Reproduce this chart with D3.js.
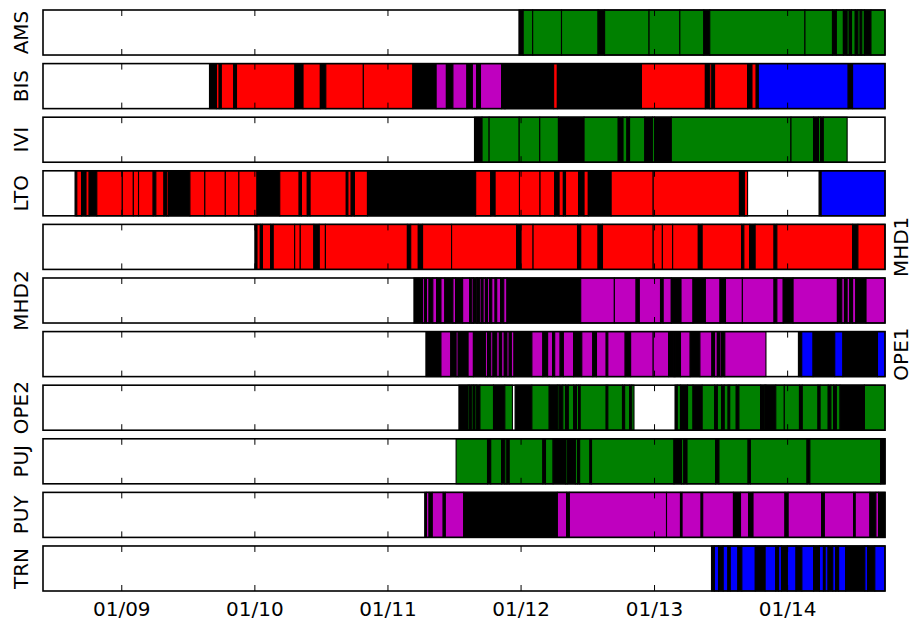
<!DOCTYPE html>
<html>
<head>
<meta charset="utf-8">
<script src="https://cdn.jsdelivr.net/npm/d3@7"></script>
<style>
  body { margin: 0; background: #fff; }
  svg text { font-family: "DejaVu Sans", sans-serif; }
</style>
</head>
<body>
<div id="chart"></div>
<script>
// Data: each station is a list of [start (decimal year), state]; a segment runs to the next start.
// States: g = green, r = red, m = magenta, b = blue, k = black, w = white (nothing)
const stations = ["AMS", "BIS", "IVI", "LTO", "MHD1", "MHD2", "OPE1", "OPE2", "PUJ", "PUY", "TRN"];
const rightLabels = ["MHD1", "OPE1"];
const tickYears = [2009, 2010, 2011, 2012, 2013, 2014];

const ams = [[2011.984,"k"],[2012.016,"g"],[2012.087,"g"],[2012.303,"g"],[2012.577,"k"],[2012.626,"g"],[2012.959,"g"],[2013.19,"g"],[2013.37,"k"],[2013.415,"g"],[2014.13,"g"],[2014.337,"k"],[2014.366,"g"],[2014.419,"k"],[2014.447,"g"],[2014.463,"k"],[2014.48,"g"],[2014.508,"k"],[2014.528,"g"],[2014.545,"k"],[2014.557,"g"],[2014.577,"k"],[2014.626,"g"],[2014.74,null]];

const bis = [[2009.659,"k"],[2009.711,"r"],[2009.732,"k"],[2009.748,"r"],[2009.841,"k"],[2009.862,"r"],[2010.301,"k"],[2010.362,"r"],[2010.492,"k"],[2010.533,"r"],[2010.815,"r"],[2011.187,"k"],[2011.362,"m"],[2011.439,"k"],[2011.488,"m"],[2011.593,"k"],[2011.634,"m"],[2011.667,"k"],[2011.695,"m"],[2011.854,"k"],[2011.874,"m"],[2011.882,"k"],[2012.244,"r"],[2012.272,"k"],[2012.902,"r"],[2013.382,"k"],[2013.415,"r"],[2013.431,"k"],[2013.451,"r"],[2013.699,"k"],[2013.732,"r"],[2013.764,"k"],[2013.78,"b"],[2014.455,"k"],[2014.488,"b"],[2014.74,null]];

const ivi = [[2011.65,"k"],[2011.707,"g"],[2011.76,"g"],[2011.986,"g"],[2012.14,"g"],[2012.28,"k"],[2012.472,"g"],[2012.728,"k"],[2012.764,"g"],[2012.793,"k"],[2012.813,"g"],[2012.927,"k"],[2012.984,"g"],[2013.0,"k"],[2013.126,"g"],[2014.025,"g"],[2014.195,"k"],[2014.232,"g"],[2014.248,"k"],[2014.268,"g"],[2014.447,"w"],[2014.74,null]];

const lto = [[2008.65,"k"],[2008.663,"r"],[2008.699,"k"],[2008.732,"r"],[2008.756,"k"],[2008.813,"r"],[2009.004,"r"],[2009.087,"r"],[2009.126,"r"],[2009.236,"k"],[2009.256,"r"],[2009.317,"k"],[2009.337,"r"],[2009.35,"k"],[2009.512,"r"],[2009.624,"r"],[2009.778,"r"],[2009.88,"r"],[2010.016,"k"],[2010.187,"r"],[2010.333,"k"],[2010.35,"r"],[2010.394,"k"],[2010.415,"r"],[2010.687,"k"],[2010.699,"r"],[2010.724,"k"],[2010.748,"r"],[2010.846,"k"],[2011.659,"r"],[2011.772,"k"],[2011.805,"r"],[2011.988,"r"],[2012.142,"r"],[2012.252,"k"],[2012.285,"r"],[2012.317,"k"],[2012.333,"r"],[2012.431,"k"],[2012.472,"r"],[2012.504,"k"],[2012.675,"r"],[2012.99,"r"],[2013.638,"k"],[2013.675,"r"],[2013.699,"w"],[2014.236,"k"],[2014.252,"b"],[2014.74,null]];

const mhd1 = [[2010.0,"k"],[2010.016,"r"],[2010.041,"k"],[2010.057,"r"],[2010.118,"k"],[2010.138,"r"],[2010.299,"r"],[2010.341,"r"],[2010.443,"k"],[2010.484,"r"],[2010.53,"r"],[2011.146,"k"],[2011.171,"r"],[2011.228,"k"],[2011.26,"r"],[2011.478,"r"],[2011.967,"k"],[2012.0,"r"],[2012.09,"r"],[2012.423,"k"],[2012.447,"r"],[2012.577,"k"],[2012.61,"r"],[2012.99,"r"],[2013.059,"r"],[2013.136,"r"],[2013.329,"k"],[2013.358,"r"],[2013.654,"k"],[2013.671,"r"],[2013.715,"k"],[2013.756,"r"],[2013.898,"k"],[2013.919,"r"],[2014.488,"k"],[2014.528,"r"],[2014.74,null]];

const mhd2 = [[2011.195,"k"],[2011.26,"m"],[2011.276,"k"],[2011.289,"m"],[2011.309,"k"],[2011.337,"m"],[2011.366,"k"],[2011.398,"m"],[2011.427,"k"],[2011.488,"m"],[2011.508,"k"],[2011.561,"m"],[2011.614,"k"],[2011.63,"m"],[2011.642,"k"],[2011.667,"m"],[2011.675,"k"],[2011.691,"m"],[2011.703,"k"],[2011.715,"m"],[2011.732,"k"],[2011.748,"m"],[2011.764,"k"],[2011.78,"m"],[2011.805,"k"],[2011.817,"m"],[2011.846,"k"],[2011.87,"m"],[2011.894,"k"],[2012.447,"m"],[2012.699,"m"],[2012.862,"k"],[2012.886,"m"],[2013.045,"k"],[2013.065,"m"],[2013.126,"k"],[2013.199,"m"],[2013.289,"k"],[2013.382,"m"],[2013.492,"k"],[2013.533,"m"],[2013.66,"m"],[2013.898,"k"],[2013.919,"m"],[2013.967,"k"],[2014.041,"m"],[2014.374,"k"],[2014.407,"m"],[2014.427,"k"],[2014.447,"m"],[2014.467,"k"],[2014.488,"m"],[2014.512,"k"],[2014.589,"m"],[2014.74,null]];

const ope1 = [[2011.285,"k"],[2011.398,"m"],[2011.472,"k"],[2011.512,"m"],[2011.528,"k"],[2011.602,"m"],[2011.642,"k"],[2011.732,"m"],[2011.748,"k"],[2011.772,"m"],[2011.789,"k"],[2011.817,"m"],[2011.837,"k"],[2011.854,"m"],[2011.874,"k"],[2011.894,"m"],[2011.911,"k"],[2011.927,"m"],[2011.947,"k"],[2012.081,"m"],[2012.163,"k"],[2012.199,"m"],[2012.236,"k"],[2012.252,"m"],[2012.293,"k"],[2012.317,"m"],[2012.394,"k"],[2012.455,"m"],[2012.537,"k"],[2012.565,"m"],[2012.638,"k"],[2012.65,"m"],[2012.78,"k"],[2012.821,"m"],[2012.99,"m"],[2013.106,"k"],[2013.146,"m"],[2013.154,"k"],[2013.195,"m"],[2013.268,"k"],[2013.341,"m"],[2013.431,"k"],[2013.451,"m"],[2013.472,"k"],[2013.492,"m"],[2013.504,"k"],[2013.528,"m"],[2013.837,"w"],[2014.081,"k"],[2014.106,"b"],[2014.191,"k"],[2014.354,"b"],[2014.415,"k"],[2014.675,"b"],[2014.74,null]];

const ope2 = [[2011.533,"k"],[2011.602,"g"],[2011.614,"k"],[2011.63,"g"],[2011.642,"k"],[2011.654,"g"],[2011.667,"k"],[2011.691,"g"],[2011.793,"k"],[2011.878,"g"],[2011.935,"w"],[2011.955,"k"],[2012.081,"g"],[2012.211,"k"],[2012.272,"g"],[2012.285,"k"],[2012.313,"g"],[2012.333,"k"],[2012.354,"g"],[2012.394,"k"],[2012.415,"g"],[2012.431,"k"],[2012.443,"g"],[2012.638,"k"],[2012.65,"g"],[2012.76,"k"],[2012.776,"g"],[2012.813,"k"],[2012.829,"g"],[2012.846,"w"],[2013.154,"k"],[2013.171,"g"],[2013.195,"k"],[2013.248,"g"],[2013.289,"k"],[2013.358,"g"],[2013.451,"k"],[2013.472,"g"],[2013.504,"k"],[2013.524,"g"],[2013.553,"k"],[2013.565,"g"],[2013.614,"k"],[2013.634,"g"],[2013.797,"k"],[2013.829,"g"],[2013.837,"k"],[2013.911,"g"],[2013.975,"g"],[2014.089,"k"],[2014.11,"g"],[2014.228,"k"],[2014.244,"g"],[2014.305,"k"],[2014.325,"g"],[2014.346,"k"],[2014.366,"g"],[2014.394,"k"],[2014.577,"g"],[2014.74,null]];

const puj = [[2011.512,"g"],[2011.748,"k"],[2011.772,"g"],[2011.854,"k"],[2011.878,"g"],[2011.894,"k"],[2011.911,"g"],[2012.163,"k"],[2012.183,"g"],[2012.24,"k"],[2012.333,"g"],[2012.346,"k"],[2012.407,"g"],[2012.423,"k"],[2012.439,"g"],[2012.516,"k"],[2012.528,"g"],[2013.146,"k"],[2013.203,"g"],[2013.22,"k"],[2013.244,"g"],[2013.459,"k"],[2013.484,"g"],[2013.703,"k"],[2013.72,"g"],[2014.146,"k"],[2014.167,"g"],[2014.699,"k"],[2014.74,null]];

const puy = [[2011.276,"k"],[2011.289,"m"],[2011.309,"k"],[2011.333,"m"],[2011.415,"k"],[2011.431,"m"],[2011.569,"k"],[2012.272,"m"],[2012.341,"k"],[2012.362,"m"],[2013.09,"m"],[2013.195,"k"],[2013.207,"m"],[2013.35,"k"],[2013.362,"m"],[2013.593,"k"],[2013.646,"m"],[2013.707,"k"],[2013.74,"m"],[2013.98,"k"],[2014.004,"m"],[2014.256,"k"],[2014.276,"m"],[2014.496,"k"],[2014.508,"m"],[2014.618,"k"],[2014.663,"m"],[2014.683,"k"],[2014.74,null]];

const trn = [[2013.428,"k"],[2013.45,"b"],[2013.481,"k"],[2013.516,"b"],[2013.551,"k"],[2013.569,"b"],[2013.626,"k"],[2013.656,"b"],[2013.757,"k"],[2013.831,"b"],[2013.91,"k"],[2013.932,"b"],[2013.954,"k"],[2013.998,"b"],[2014.063,"k"],[2014.107,"b"],[2014.195,"k"],[2014.239,"b"],[2014.269,"k"],[2014.282,"b"],[2014.304,"k"],[2014.339,"b"],[2014.361,"k"],[2014.383,"b"],[2014.436,"k"],[2014.58,"b"],[2014.602,"k"],[2014.655,"b"],[2014.74,null]];

const series = { AMS: ams, BIS: bis, IVI: ivi, LTO: lto, MHD1: mhd1, MHD2: mhd2, OPE1: ope1, OPE2: ope2, PUJ: puj, PUY: puy, TRN: trn };

const colors = { g: "#008000", r: "#ff0000", m: "#bf00bf", b: "#0000ff", k: "#000000", w: "#ffffff" };

// decimal year -> Date
const yr = (v) => {
  const y = Math.floor(v);
  const a = new Date(y, 0, 1), b = new Date(y + 1, 0, 1);
  return new Date(+a + (v - y) * (b - a));
};

// Dimensions
const dims = { width: 912, height: 621, left: 43, right: 885, top: 10, bottom: 591 };

const svg = d3.select("#chart").append("svg")
  .attr("width", dims.width).attr("height", dims.height);

// Scales
const xScale = d3.scaleTime()
  .domain([new Date(2008, 4, 30), new Date(2014, 8, 25)])
  .range([dims.left, dims.right])
  .clamp(true);

const yScale = d3.scaleBand()
  .domain(stations)
  .range([dims.top, dims.bottom])
  .paddingInner(0.16);

const tickDates = tickYears.map((y) => new Date(y, 0, 1));
const fmt = d3.timeFormat("%m/%y");

stations.forEach((name) => {
  const pts = series[name];
  const segs = pts.slice(0, -1).map((p, i) => ({ s: yr(p[0]), e: yr(pts[i + 1][0]), c: p[1] }));
  const y0 = yScale(name), h = yScale.bandwidth();
  const g = svg.append("g");

  g.append("rect")
    .attr("x", dims.left).attr("y", y0)
    .attr("width", dims.right - dims.left).attr("height", h)
    .attr("fill", "#fff");

  g.selectAll("rect.seg")
    .data(segs.filter((d) => d.c !== "w"))
    .join("rect")
    .attr("class", "seg")
    .attr("x", (d) => xScale(d.s))
    .attr("y", y0)
    .attr("width", (d) => Math.max(0, xScale(d.e) - xScale(d.s)))
    .attr("height", h)
    .attr("fill", (d) => colors[d.c])
    .attr("stroke", "#000")
    .attr("stroke-width", 1.1);

  // inward ticks top and bottom
  g.selectAll("line.tt")
    .data(tickDates)
    .join("line")
    .attr("class", "tt")
    .attr("x1", (d) => xScale(d)).attr("x2", (d) => xScale(d))
    .attr("y1", y0).attr("y2", y0 + 6)
    .attr("stroke", "#000").attr("stroke-width", 1);
  g.selectAll("line.tb")
    .data(tickDates)
    .join("line")
    .attr("class", "tb")
    .attr("x1", (d) => xScale(d)).attr("x2", (d) => xScale(d))
    .attr("y1", y0 + h - 6).attr("y2", y0 + h)
    .attr("stroke", "#000").attr("stroke-width", 1);

  g.append("rect")
    .attr("x", dims.left).attr("y", y0)
    .attr("width", dims.right - dims.left).attr("height", h)
    .attr("fill", "none")
    .attr("stroke", "#000")
    .attr("stroke-width", 1.6);

  const onRight = rightLabels.includes(name);
  g.append("text")
    .attr("transform", `translate(${onRight ? 901 : 20.5}, ${y0 + h / 2}) rotate(-90)`)
    .attr("text-anchor", "middle")
    .attr("dy", "0.35em")
    .attr("font-size", 20)
    .text(name);
});

// x tick labels
svg.append("g")
  .selectAll("text")
  .data(tickDates)
  .join("text")
  .attr("x", (d) => xScale(d))
  .attr("y", 616)
  .attr("text-anchor", "middle")
  .attr("font-size", 20)
  .text((d) => fmt(d));
</script>
</body>
</html>
